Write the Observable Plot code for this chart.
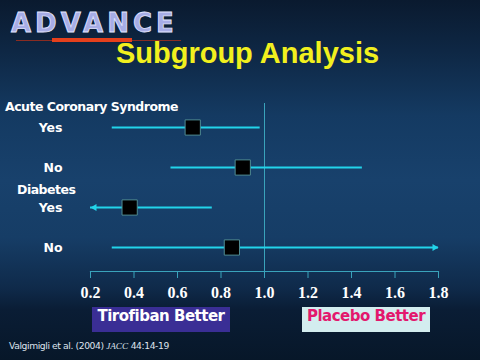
<!DOCTYPE html>
<html>
<head>
<meta charset="utf-8">
<script src="https://cdn.jsdelivr.net/npm/d3@7"></script>
<script src="https://cdn.jsdelivr.net/npm/@observablehq/plot@0.6"></script>
<style>
  html, body { margin: 0; padding: 0; }
  body {
    width: 480px; height: 360px; overflow: hidden; position: relative;
    background: linear-gradient(to bottom, #0a1a2f 0%, #0e2744 14%, #143a62 32%, #18416c 50%, #163d66 66%, #0f2a4a 80%, #0a1d35 86%, #071729 100%);
    font-family: "DejaVu Sans", sans-serif;
  }
  #chart { position: absolute; left: 0; top: 0; }
  .abs { position: absolute; white-space: nowrap; }
  #logo {
    left: 11px; top: 6px; font: bold 26px "DejaVu Sans", sans-serif; letter-spacing: 4px;
    color: #a7ade6; -webkit-text-stroke: 0.8px #e2e5ff; line-height: 34px;
  }
  #rule1 { left: 16px; top: 40px; width: 165px; height: 1px; background: #8a2c22; }
  #rule2 { left: 52px; top: 38px; width: 80px; height: 4px; background: #e5401c; }
  #title {
    left: 0; width: 495px; text-align: center; top: 37px; line-height: 36px;
    font: bold 29px "Liberation Sans", Arial, sans-serif; color: #f2f01e;
  }
  .head { font: bold 12.5px "DejaVu Sans", sans-serif; letter-spacing: -0.5px; color: #fff; line-height: 16px; }
  .btn {
    top: 307px; height: 25px; line-height: 25px; text-align: center;
    font: bold 15px "DejaVu Sans", sans-serif; letter-spacing: -0.5px;
  }
  #tiro { left: 92px; width: 138px; background: #3a2e95; color: #fff; }
  #plac { left: 302px; width: 128px; background: #d3edef; color: #e3186d; }
  #cap { left: 9px; top: 339px; font: 9.2px "DejaVu Sans", sans-serif; letter-spacing: -0.4px; color: #dfe4ee; line-height: 14px; }
  #cap i { font-family: "Liberation Serif", serif; letter-spacing: 0; }
</style>
</head>
<body>
<div id="chart"></div>
<div class="abs" id="logo">ADVANCE</div>
<div class="abs" id="rule1"></div>
<div class="abs" id="rule2"></div>
<div class="abs" id="title">Subgroup Analysis</div>
<div class="abs head" style="left:5px; top:99px;">Acute Coronary Syndrome</div>
<div class="abs head" style="left:17px; top:182px;">Diabetes</div>
<div class="abs btn" id="tiro">Tirofiban Better</div>
<div class="abs btn" id="plac">Placebo Better</div>
<div class="abs" id="cap">Valgimigli et al. (2004) <i>JACC</i> 44:14-19</div>
<script>
// ---- data ----
const groups    = ["Acute Coronary Syndrome", "Acute Coronary Syndrome", "Diabetes", "Diabetes"];
const subgroups = ["Yes", "No", "Yes", "No"];
const estimates = [0.67, 0.90, 0.38, 0.85];
const lowers    = [0.30, 0.57, 0.20, 0.30];
const uppers    = [0.98, 1.45, 0.76, 1.80];
const tickValues = [0.2, 0.4, 0.6, 0.8, 1.0, 1.2, 1.4, 1.6, 1.8];
const xDomain = [0.2, 1.8];

const rows = groups.map((g, i) => ({
  key: g + " | " + subgroups[i],
  subgroup: subgroups[i],
  est: estimates[i],
  lo: lowers[i],
  hi: uppers[i]
}));
const leftOpen = rows.filter(d => d.lo <= xDomain[0]);
const rightOpen = rows.filter(d => d.hi >= xDomain[1]);

const cyan = "#22d4ea";
const teal = "#3aa3bb";

const plot = Plot.plot({
  width: 480,
  height: 360,
  marginLeft: 90,
  marginRight: 42,
  marginTop: 103,
  marginBottom: 89,
  style: { background: "transparent", color: "white", overflow: "visible" },
  x: { domain: xDomain, axis: null },
  y: { type: "point", domain: rows.map(d => d.key), range: [126, 247], padding: 0, axis: null },
  marks: [
    Plot.ruleX([1.0], { stroke: teal, strokeWidth: 1 }),
    Plot.frame({ anchor: "bottom", stroke: teal, strokeWidth: 1.2 }),
    Plot.axisX({
      anchor: "bottom", ticks: tickValues, tickFormat: d3.format(".1f"),
      tickSize: 7, tickPadding: 8, stroke: teal, fill: "white",
      fontSize: 16, fontWeight: "bold", fontFamily: "Liberation Serif, serif", label: null
    }),
    Plot.ruleY(rows, { y: "key", x1: "lo", x2: "hi", stroke: cyan, strokeWidth: 2 }),
    Plot.dot(leftOpen, { x: "lo", y: "key", symbol: "triangle", rotate: -90, r: 2.6, fill: cyan, stroke: "none", dx: 4 }),
    Plot.dot(rightOpen, { x: "hi", y: "key", symbol: "triangle", rotate: 90, r: 2.6, fill: cyan, stroke: "none", dx: -4 }),
    Plot.dot(rows, { x: "est", y: "key", symbol: "square", r: 8.6, fill: "black", stroke: "#4f8c94", strokeWidth: 1 }),
    Plot.text(rows, {
      y: "key", text: "subgroup", frameAnchor: "left", dx: -28, textAnchor: "end",
      fill: "white", fontWeight: "bold", fontSize: 12.5, fontFamily: "DejaVu Sans, sans-serif"
    })
  ]
});
document.getElementById("chart").appendChild(plot);
</script>
</body>
</html>
